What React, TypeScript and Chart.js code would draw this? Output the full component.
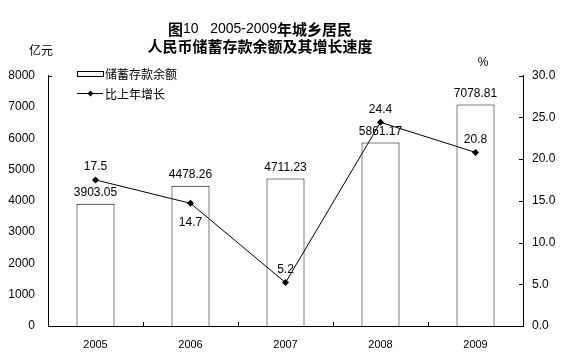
import React, { useEffect, useRef } from 'react';
import { Chart, registerables } from 'chart.js';

Chart.register(...registerables);

const categories = ['2005', '2006', '2007', '2008', '2009'];
const savings = [3903.05, 4478.26, 4711.23, 5861.17, 7078.81];
const growth = [17.5, 14.7, 5.2, 24.4, 20.8];
const growthLabelSide = ['above', 'below', 'above', 'above', 'above'];
const leftMax = 8000;
const leftStep = 1000;
const rightMax = 30;
const rightStep = 5;
const titleLine1 = [
  { t: '图', bold: true },
  { t: '10   2005-2009', bold: false },
  { t: '年城乡居民', bold: true },
];
const titleLine2 = '人民币储蓄存款余额及其增长速度';
const legendBar = '储蓄存款余额';
const legendLine = '比上年增长';
const leftUnit = '亿元';
const rightUnit = '%';

const NUM_FONT = '"Liberation Sans", Arial, sans-serif';
const CJK_FONT = '"Noto Sans CJK SC", sans-serif';

const decorPlugin = {
  id: 'decor',
  afterDraw(chart: any) {
    const ctx = chart.ctx;
    const area = chart.chartArea;
    const x = chart.scales.x;
    const yR = chart.scales.y1;
    ctx.save();
    ctx.strokeStyle = '#000';
    ctx.fillStyle = '#000';
    ctx.lineWidth = 1;

    // axis ticks
    ctx.beginPath();
    ctx.moveTo(area.left, Math.round(area.top) + 0.5);
    ctx.lineTo(area.left + 4, Math.round(area.top) + 0.5);
    for (let v = 0; v <= rightMax; v += rightStep) {
      const py = Math.round(yR.getPixelForValue(v)) + 0.5;
      ctx.moveTo(area.right, py);
      ctx.lineTo(area.right - 4, py);
    }
    for (let i = 1; i < categories.length; i++) {
      const px = Math.round((x.getPixelForValue(i - 1) + x.getPixelForValue(i)) / 2) + 0.5;
      ctx.moveTo(px, area.bottom);
      ctx.lineTo(px, area.bottom - 4);
    }
    ctx.stroke();

    // data labels
    ctx.font = '12px ' + NUM_FONT;
    ctx.textAlign = 'center';
    ctx.textBaseline = 'middle';
    const barMeta = chart.getDatasetMeta(0);
    barMeta.data.forEach((el: any, i: number) => {
      ctx.fillText(savings[i].toFixed(2), el.x, el.y - 11);
    });
    const lineMeta = chart.getDatasetMeta(1);
    lineMeta.data.forEach((el: any, i: number) => {
      const dy = growthLabelSide[i] === 'below' ? 19 : -13;
      ctx.fillText(growth[i].toFixed(1), el.x, el.y + dy);
    });

    // title
    const cx = 252;
    ctx.textAlign = 'left';
    const segFont = (s: any) => (s.bold ? 'bold 15px ' + CJK_FONT : '14px ' + NUM_FONT);
    let total = 0;
    titleLine1.forEach((s) => {
      ctx.font = segFont(s);
      total += ctx.measureText(s.t).width;
    });
    let tx = cx - total / 2;
    titleLine1.forEach((s) => {
      ctx.font = segFont(s);
      ctx.fillText(s.t, tx, 21);
      tx += ctx.measureText(s.t).width;
    });
    ctx.font = 'bold 15px ' + CJK_FONT;
    ctx.textAlign = 'center';
    ctx.fillText(titleLine2, cx, 38);

    // units
    ctx.font = '12px ' + CJK_FONT;
    ctx.fillText(leftUnit, 33, 42);
    ctx.font = '12px ' + NUM_FONT;
    ctx.fillText(rightUnit, 475, 55);

    // legend
    ctx.strokeRect(69.5, 63.5, 26, 5);
    ctx.beginPath();
    ctx.moveTo(69, 85.5);
    ctx.lineTo(95, 85.5);
    ctx.stroke();
    ctx.beginPath();
    ctx.moveTo(82.5, 82.5);
    ctx.lineTo(85.5, 85.5);
    ctx.lineTo(82.5, 88.5);
    ctx.lineTo(79.5, 85.5);
    ctx.closePath();
    ctx.fill();
    ctx.font = '12px ' + CJK_FONT;
    ctx.textAlign = 'left';
    ctx.fillText(legendBar, 97, 66);
    ctx.fillText(legendLine, 97, 86);
    ctx.restore();
  },
};

export default function App() {
  const ref = useRef<HTMLCanvasElement>(null);
  useEffect(() => {
    if (!ref.current) return;
    const chart = new Chart(ref.current, {
      type: 'bar',
      data: {
        labels: categories,
        datasets: [
          {
            type: 'bar',
            data: savings,
            backgroundColor: '#ffffff',
            borderColor: '#000000',
            borderWidth: 1,
            barPercentage: 0.4,
            categoryPercentage: 1,
            yAxisID: 'y',
            order: 2,
          },
          {
            type: 'line',
            data: growth,
            borderColor: '#000000',
            borderWidth: 1,
            backgroundColor: '#000000',
            pointStyle: 'rectRot',
            pointRadius: 3.5,
            pointBackgroundColor: '#000000',
            pointBorderWidth: 0,
            yAxisID: 'y1',
            order: 1,
          } as any,
        ],
      },
      options: {
        responsive: true,
        maintainAspectRatio: false,
        animation: false,
        layout: { padding: { top: 67.6, left: 0, right: 0, bottom: 0 } },
        plugins: {
          legend: { display: false },
          title: { display: false },
          tooltip: { enabled: false },
        },
        scales: {
          x: {
            grid: { display: false, drawTicks: false },
            border: { display: true, color: '#000', width: 1 },
            ticks: { color: '#000', font: { family: NUM_FONT, size: 11 }, padding: 12 },
            afterFit: (s: any) => { s.height = 26; },
          },
          y: {
            position: 'left',
            min: 0,
            max: leftMax,
            grid: { display: false, drawTicks: false },
            border: { display: true, color: '#000', width: 1 },
            ticks: {
              stepSize: leftStep,
              color: '#000',
              font: { family: NUM_FONT, size: 12 },
              padding: 13,
              callback: (v: any) => String(v),
            },
            afterFit: (s: any) => { s.width = 40; },
          },
          y1: {
            position: 'right',
            min: 0,
            max: rightMax,
            grid: { display: false, drawTicks: false },
            border: { display: true, color: '#000', width: 1 },
            ticks: {
              stepSize: rightStep,
              color: '#000',
              font: { family: NUM_FONT, size: 12 },
              padding: 9,
              callback: (v: any) => Number(v).toFixed(1),
            },
            afterFit: (s: any) => { s.width = 34; },
          },
        },
      },
      plugins: [decorPlugin],
    });
    return () => chart.destroy();
  }, []);
  return (
    <div style={{ width: 549, height: 344, position: 'relative' }}>
      <canvas ref={ref} />
    </div>
  );
}
